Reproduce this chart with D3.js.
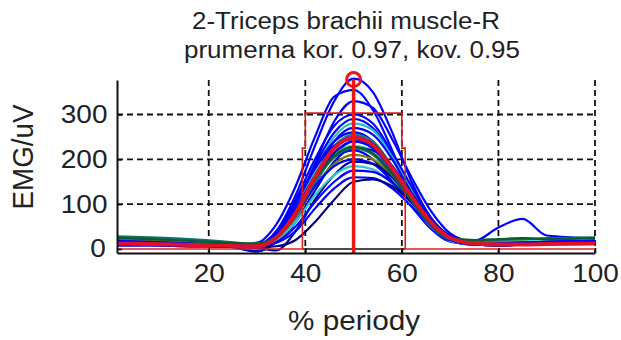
<!DOCTYPE html>
<html>
<head>
<meta charset="utf-8">
<script src="https://cdn.jsdelivr.net/npm/d3@7"></script>
<style>
  body { margin: 0; background: #fff; }
  text { font-family: "Liberation Sans", Arial, sans-serif; fill: #222; }
</style>
</head>
<body>
<div id="chart"></div>
<script>
// Chart data
var titleLines = ["2-Triceps brachii muscle-R", "prumerna kor. 0.97, kov. 0.95"];
var xTicks = [20, 40, 60, 80, 100];
var yTicks = [0, 100, 200, 300];

// sample positions (% of period) for every trial
var xs = [1, 8, 16, 24, 30, 34, 38, 42, 46, 50, 54, 58, 62, 66, 70, 75, 80, 85, 90, 100];

// single trials (EMG/uV)
var trials = [
  [12, 14, 10, 8, 10, 40, 120, 230, 330, 380, 350, 260, 150, 70, 30, 15, 12, 14, 18, 20],
  [18, 16, 12, 9, 14, 55, 140, 250, 340, 355, 310, 220, 120, 55, 25, 14, 12, 15, 18, 22],
  [10, 10, 8, 6, 5, 25, 95, 190, 285, 330, 315, 245, 160, 85, 35, 15, 10, 12, 14, 16],
  [22, 20, 16, 12, 10, 35, 110, 200, 275, 300, 280, 215, 140, 70, 28, 14, 12, 12, 15, 18],
  [14, 12, 10, 8, 6, 30, 95, 185, 260, 290, 270, 210, 135, 65, 25, 12, 10, 14, 16, 20],
  [25, 24, 20, 15, 10, 30, 90, 175, 250, 280, 265, 205, 130, 60, 22, 12, 14, 18, 20, 24],
  [8, 8, 6, 5, -5, 18, 75, 160, 240, 270, 255, 200, 125, 60, 22, 10, 8, 10, 12, 14],
  [16, 14, 12, 10, 8, 32, 100, 180, 240, 260, 240, 180, 115, 55, 20, 10, 10, 12, 14, 16],
  [20, 18, 14, 11, 9, 28, 85, 165, 230, 255, 240, 185, 120, 58, 22, 12, 14, 16, 18, 20],
  [12, 12, 10, 8, 5, 22, 80, 160, 225, 250, 235, 180, 115, 55, 20, 10, 10, 12, 14, 15],
  [18, 16, 12, 9, 8, 35, 105, 180, 230, 245, 225, 170, 105, 48, 18, 10, 12, 14, 16, 18],
  [10, 10, 8, 6, 4, 20, 70, 145, 210, 240, 230, 185, 125, 62, 25, 12, 10, 10, 12, 14],
  [15, 16, 15, 14, 12, 26, 85, 160, 210, 230, 212, 160, 100, 48, 20, 16, 18, 20, 22, 20],
  [22, 20, 16, 12, 10, 26, 80, 150, 205, 230, 220, 175, 115, 55, 20, 12, 14, 16, 20, 22],
  [8, 8, 6, 5, -6, 15, 60, 130, 195, 225, 220, 180, 125, 65, 28, 12, 8, 10, 12, 14],
  [16, 14, 12, 10, 8, 30, 90, 160, 205, 220, 200, 150, 95, 45, 16, 10, 12, 14, 16, 18],
  [20, 18, 14, 10, 6, 22, 70, 140, 190, 210, 200, 160, 105, 52, 20, 14, 16, 16, 14, 12],
  [18, 16, 12, 10, 8, 25, 75, 140, 185, 200, 190, 150, 100, 50, 18, 10, 12, 14, 16, 18],
  [10, 10, 8, 6, 2, -3, 40, 110, 165, 195, 190, 160, 110, 58, 22, 10, 8, 10, 12, 14],
  [14, 12, 10, 8, 6, 20, 60, 120, 165, 185, 178, 145, 98, 50, 18, 10, 10, 12, 14, 16],
  [12, 12, 10, 8, 5, 15, 50, 105, 150, 175, 172, 148, 105, 58, 24, 12, 10, 12, 14, 15],
  [16, 14, 12, 10, 8, 14, 40, 90, 135, 160, 158, 135, 95, 52, 20, 10, 12, 14, 16, 18],
  [10, 10, 8, 6, 4, 6, 20, 60, 110, 150, 155, 140, 105, 60, 25, 10, 8, 10, 12, 14],
  [14, 12, 10, 8, 6, 25, 80, 155, 215, 240, 225, 175, 110, 52, 20, 18, 48, 67, 30, 24],
  [28, 26, 22, 16, 10, 24, 75, 150, 205, 225, 210, 165, 108, 52, 22, 18, 20, 22, 24, 26],
  [24, 22, 18, 14, 12, 28, 82, 155, 208, 228, 214, 168, 110, 54, 24, 20, 22, 24, 22, 24]
];
var trialColors = [
  "#0000ff", "#0000ff", "#0000ff", "#0000ff", "#0000ff", "#20c0d0", "#0000ff", "#0000ff",
  "#108080", "#0000ff", "#0000ff", "#0000ff", "#50e050", "#40d8d0", "#0000cc", "#0000ff",
  "#7a7a10", "#0000ff", "#000099", "#30c8d0", "#0000ff", "#0000ff", "#000080", "#0000ff",
  "#107070", "#0a5a2a"
];

// mean curve
var meanCurve = [12, 11, 9, 7, 6, 25, 80, 160, 225, 248, 232, 180, 118, 60, 25, 12, 10, 10, 11, 12];

// peak marker and onset/offset box
var peakX = 50, peakY = 378;
var boxX = [39.4, 39.4, 40, 40, 60, 60, 60.7, 60.7];
var boxY = [0, 225, 225, 303, 303, 225, 225, 0];

// Layout
var W = 621, H = 340;
var svg = d3.select("#chart").append("svg")
  .attr("width", W)
  .attr("height", H);

var x = d3.scaleLinear().domain([1, 100]).range([117, 595]);
var y = d3.scaleLinear().domain([-9, 377]).range([253, 80]);

// grid
var grid = svg.append("g")
  .attr("stroke", "#111")
  .attr("stroke-width", 1.8)
  .attr("stroke-dasharray", "6,4");
grid.selectAll(".vg").data(xTicks).enter().append("line")
  .attr("x1", d => x(d)).attr("x2", d => x(d))
  .attr("y1", y(377)).attr("y2", y(-9));
grid.selectAll(".hg").data(yTicks.filter(d => d > 0)).enter().append("line")
  .attr("x1", x(1)).attr("x2", x(100))
  .attr("y1", d => y(d)).attr("y2", d => y(d));

// trials
var line = d3.line()
  .x((d, i) => x(xs[i]))
  .y(d => y(d))
  .curve(d3.curveMonotoneX);

svg.append("g").selectAll("path").data(trials).enter().append("path")
  .attr("d", line)
  .attr("fill", "none")
  .attr("stroke", (d, i) => trialColors[i])
  .attr("stroke-width", 2.2);

// zero line: red outside box, black inside
var zeroSeg = [[1, 39.4, "#e02020"], [39.4, 60.7, "#111"], [60.7, 100, "#e02020"]];
svg.append("g").selectAll("line").data(zeroSeg).enter().append("line")
  .attr("x1", d => x(d[0])).attr("x2", d => x(d[1]))
  .attr("y1", y(0)).attr("y2", y(0))
  .attr("stroke", d => d[2])
  .attr("stroke-width", 1.5);

// onset/offset box
svg.append("path")
  .attr("d", d3.line().x((d, i) => x(boxX[i])).y(d => y(d))(boxY))
  .attr("fill", "none")
  .attr("stroke", "#d42020")
  .attr("stroke-width", 1.6);

// mean
svg.append("path")
  .attr("d", line(meanCurve))
  .attr("fill", "none")
  .attr("stroke", "#e0102a")
  .attr("stroke-width", 4);

// peak marker
svg.append("line")
  .attr("x1", x(peakX)).attr("x2", x(peakX))
  .attr("y1", y(-9)).attr("y2", y(peakY))
  .attr("stroke", "#ee1515")
  .attr("stroke-width", 3.5);
svg.append("circle")
  .attr("cx", x(peakX)).attr("cy", y(peakY))
  .attr("r", 7)
  .attr("fill", "none")
  .attr("stroke", "#ee1515")
  .attr("stroke-width", 3);

// axes
var xAxis = svg.append("g")
  .attr("transform", "translate(0," + y(-9) + ")")
  .call(d3.axisBottom(x).tickValues(xTicks).tickSizeInner(-5).tickSizeOuter(0).tickPadding(11));
var yAxis = svg.append("g")
  .attr("transform", "translate(" + x(1) + ",0)")
  .call(d3.axisLeft(y).tickValues(yTicks).tickSizeInner(-5).tickSizeOuter(0).tickPadding(12));

[xAxis, yAxis].forEach(function(ax) {
  ax.select(".domain").attr("stroke", "#111").attr("stroke-width", 2);
  ax.selectAll(".tick line").attr("stroke", "#111").attr("stroke-width", 1.6);
  ax.selectAll("text")
    .attr("fill", "#222")
    .style("font-size", "25px")
    .style("font-family", "'Liberation Sans', Arial, sans-serif")
    .style("transform-box", "fill-box")
    .style("transform-origin", "center")
    .style("transform", "scaleX(1.12)");
});

// titles and axis labels
svg.append("text")
  .attr("transform", "translate(346,29) scale(1.13,1)")
  .attr("text-anchor", "middle")
  .style("font-size", "23px")
  .text(titleLines[0]);
svg.append("text")
  .attr("transform", "translate(352,58) scale(1.13,1)")
  .attr("text-anchor", "middle")
  .style("font-size", "23px")
  .text(titleLines[1]);

svg.append("text")
  .attr("transform", "translate(354,330) scale(1.1,1)")
  .attr("text-anchor", "middle")
  .style("font-size", "27px")
  .text("% periody");

svg.append("text")
  .attr("transform", "translate(33,157) rotate(-90) scale(1.03,1.12)")
  .attr("text-anchor", "middle")
  .style("font-size", "27px")
  .text("EMG/uV");
</script>
</body>
</html>
